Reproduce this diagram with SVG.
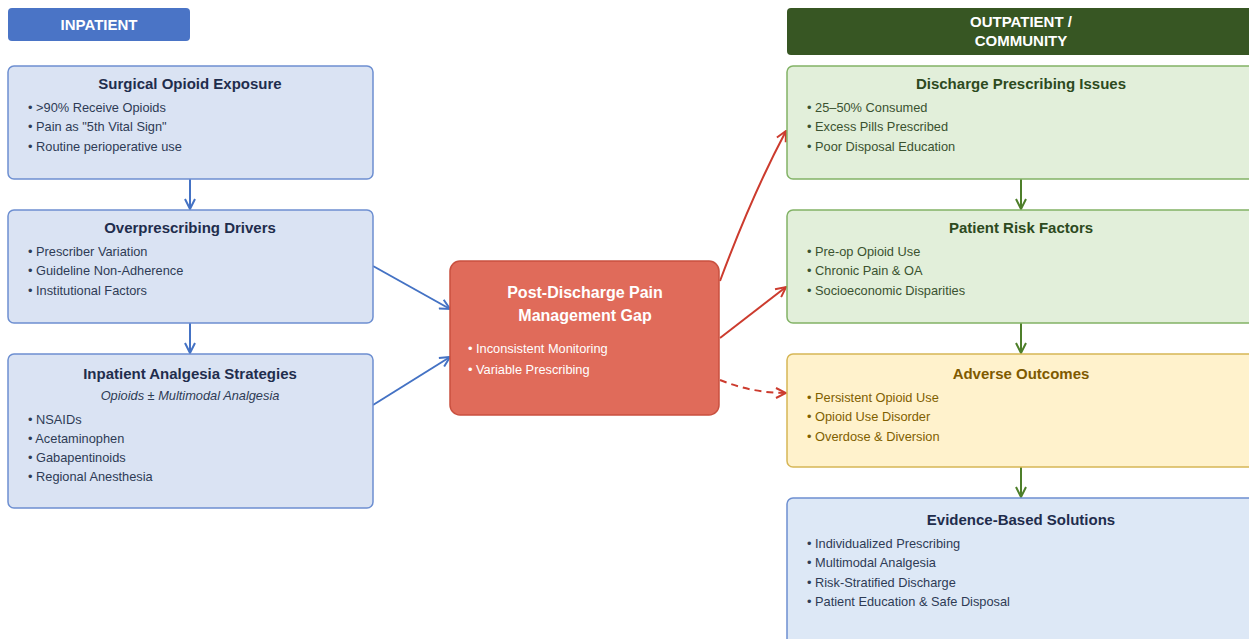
<svg xmlns="http://www.w3.org/2000/svg" width="1249" height="639" viewBox="0 0 1249 639">
<defs>
<style>
text{font-family:"Liberation Sans",Arial,sans-serif}
.hdr{font-size:15px;font-weight:bold;fill:#fff;text-anchor:middle}
.t{font-size:15px;font-weight:bold;text-anchor:middle}
.b{font-size:12.8px}
.blue rect{fill:#dae3f3;stroke:#6d8fd1;stroke-width:1.5}
.blue .t{fill:#1f2d4d}
.blue .b{fill:#2e3b55}
.green rect{fill:#e2efda;stroke:#82b366;stroke-width:1.5}
.green .t{fill:#2d4a1e}
.green .b{fill:#3a5230}
.yellow rect{fill:#fff2cc;stroke:#d6b656;stroke-width:1.5}
.yellow .t{fill:#7f5a00}
.yellow .b{fill:#7f6000}
.lb rect{fill:#dde8f6;stroke:#6d8fd1;stroke-width:1.5}
.lb .t{fill:#1f2d4d}
.lb .b{fill:#2e3b55}
.c line,.c path{fill:none;stroke-width:2}
</style>
<marker id="ab" viewBox="0 0 12 12" refX="11" refY="6" markerWidth="12" markerHeight="12" markerUnits="userSpaceOnUse" orient="auto"><path d="M1,1 L11,6 L1,11" fill="none" stroke="#4472c4" stroke-width="2"/></marker>
<marker id="ag" viewBox="0 0 12 12" refX="11" refY="6" markerWidth="12" markerHeight="12" markerUnits="userSpaceOnUse" orient="auto"><path d="M1,1 L11,6 L1,11" fill="none" stroke="#4e7f2a" stroke-width="2"/></marker>
<marker id="ar" viewBox="0 0 12 12" refX="11" refY="6" markerWidth="12" markerHeight="12" markerUnits="userSpaceOnUse" orient="auto"><path d="M1,1 L11,6 L1,11" fill="none" stroke="#cc3b2e" stroke-width="2"/></marker>
</defs>
<rect width="1249" height="639" fill="#ffffff"/>

<g id="hdr-inpatient">
<rect x="8" y="8" width="182" height="33" rx="4" fill="#4a74c6"/>
<text class="hdr" x="99" y="30">INPATIENT</text>
</g>
<g id="hdr-outpatient">
<rect x="787" y="8" width="470" height="47" rx="4" fill="#375623"/>
<text class="hdr" x="1021" y="27">OUTPATIENT /</text>
<text class="hdr" x="1021" y="46">COMMUNITY</text>
</g>

<g id="connectors" class="c">
<line x1="190" y1="179" x2="190" y2="209" stroke="#4472c4" marker-end="url(#ab)"/>
<line x1="190" y1="323" x2="190" y2="353" stroke="#4472c4" marker-end="url(#ab)"/>
<line x1="373" y1="266" x2="450" y2="309" stroke="#4472c4" marker-end="url(#ab)"/>
<line x1="373" y1="405" x2="450" y2="357" stroke="#4472c4" marker-end="url(#ab)"/>
<line x1="1021" y1="179" x2="1021" y2="209" stroke="#4e7f2a" marker-end="url(#ag)"/>
<line x1="1021" y1="323" x2="1021" y2="353" stroke="#4e7f2a" marker-end="url(#ag)"/>
<line x1="1021" y1="467" x2="1021" y2="497" stroke="#4e7f2a" marker-end="url(#ag)"/>
<path d="M720,281 Q752,195 786,131" stroke="#cc3b2e" marker-end="url(#ar)"/>
<line x1="720" y1="338" x2="786" y2="287" stroke="#cc3b2e" marker-end="url(#ar)"/>
<path d="M720,380 Q752,393 786,393" stroke="#cc3b2e" stroke-dasharray="7,5" marker-end="url(#ar)"/>
</g>

<g id="surgical-opioid-exposure" class="blue">
<rect x="8" y="66" width="365" height="113" rx="6"/>
<text class="t" x="190" y="89">Surgical Opioid Exposure</text>
<text class="b" x="28" y="112">• &gt;90% Receive Opioids</text>
<text class="b" x="28" y="131">• Pain as "5th Vital Sign"</text>
<text class="b" x="28" y="151">• Routine perioperative use</text>
</g>

<g id="overprescribing-drivers" class="blue">
<rect x="8" y="210" width="365" height="113" rx="6"/>
<text class="t" x="190" y="233">Overprescribing Drivers</text>
<text class="b" x="28" y="256">• Prescriber Variation</text>
<text class="b" x="28" y="275">• Guideline Non-Adherence</text>
<text class="b" x="28" y="295">• Institutional Factors</text>
</g>

<g id="inpatient-analgesia" class="blue">
<rect x="8" y="354" width="365" height="154" rx="6"/>
<text class="t" x="190" y="379">Inpatient Analgesia Strategies</text>
<text class="b" x="190" y="400" text-anchor="middle" font-style="italic" fill="#44506a">Opioids ± Multimodal Analgesia</text>
<text class="b" x="28" y="424">• NSAIDs</text>
<text class="b" x="28" y="443">• Acetaminophen</text>
<text class="b" x="28" y="462">• Gabapentinoids</text>
<text class="b" x="28" y="481">• Regional Anesthesia</text>
</g>

<g id="post-discharge-gap">
<rect x="450" y="261" width="269" height="154" rx="10" fill="#e06b5a" stroke="#c9503f" stroke-width="1.5"/>
<text x="585" y="298" font-size="16" font-weight="bold" fill="#fff" text-anchor="middle">Post-Discharge Pain</text>
<text x="585" y="321" font-size="16" font-weight="bold" fill="#fff" text-anchor="middle">Management Gap</text>
<text class="b" x="468" y="353" fill="#fff">• Inconsistent Monitoring</text>
<text class="b" x="468" y="374" fill="#fff">• Variable Prescribing</text>
</g>

<g id="discharge-prescribing" class="green">
<rect x="787" y="66" width="470" height="113" rx="6"/>
<text class="t" x="1021" y="89">Discharge Prescribing Issues</text>
<text class="b" x="807" y="112">• 25–50% Consumed</text>
<text class="b" x="807" y="131">• Excess Pills Prescribed</text>
<text class="b" x="807" y="151">• Poor Disposal Education</text>
</g>

<g id="patient-risk-factors" class="green">
<rect x="787" y="210" width="470" height="113" rx="6"/>
<text class="t" x="1021" y="233">Patient Risk Factors</text>
<text class="b" x="807" y="256">• Pre-op Opioid Use</text>
<text class="b" x="807" y="275">• Chronic Pain &amp; OA</text>
<text class="b" x="807" y="295">• Socioeconomic Disparities</text>
</g>

<g id="adverse-outcomes" class="yellow">
<rect x="787" y="354" width="470" height="113" rx="6"/>
<text class="t" x="1021" y="379">Adverse Outcomes</text>
<text class="b" x="807" y="402">• Persistent Opioid Use</text>
<text class="b" x="807" y="421">• Opioid Use Disorder</text>
<text class="b" x="807" y="441">• Overdose &amp; Diversion</text>
</g>

<g id="evidence-based-solutions" class="lb">
<rect x="787" y="498" width="470" height="160" rx="6"/>
<text class="t" x="1021" y="525">Evidence-Based Solutions</text>
<text class="b" x="807" y="548">• Individualized Prescribing</text>
<text class="b" x="807" y="567">• Multimodal Analgesia</text>
<text class="b" x="807" y="587">• Risk-Stratified Discharge</text>
<text class="b" x="807" y="606">• Patient Education &amp; Safe Disposal</text>
</g>
</svg>
